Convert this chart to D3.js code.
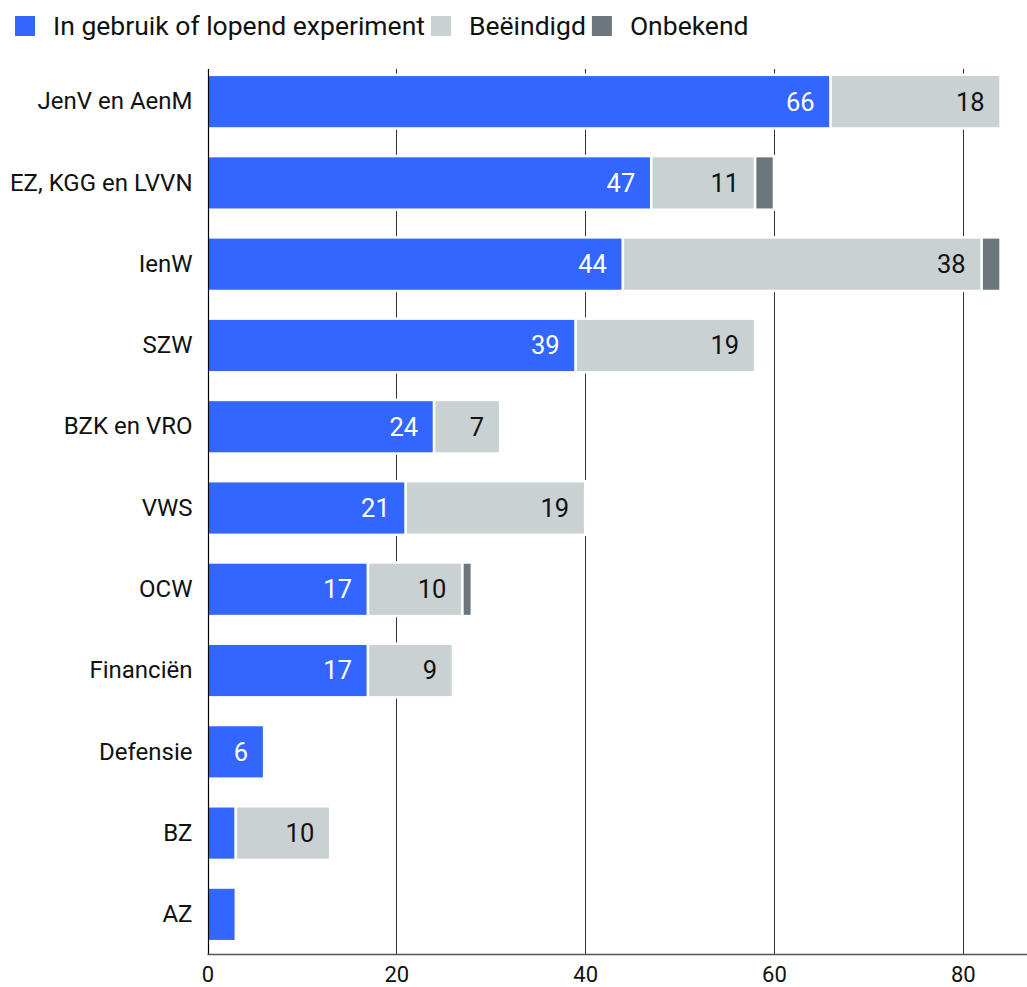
<!DOCTYPE html>
<html>
<head>
<meta charset="utf-8">
<script src="https://cdn.jsdelivr.net/npm/d3@7"></script>
<style>
  body { margin: 0; background: #fff; }
  svg { font-family: Roboto, "Noto Sans", sans-serif; }
</style>
</head>
<body>
<svg id="chart" width="1027" height="987"></svg>
<script>
// Data
const categories = [
  "JenV en AenM", "EZ, KGG en LVVN", "IenW", "SZW", "BZK en VRO",
  "VWS", "OCW", "Financiën", "Defensie", "BZ", "AZ"
];
const inGebruik = [66, 47, 44, 39, 24, 21, 17, 17, 6, 3, 3];
const beeindigd = [18, 11, 38, 19, 7, 19, 10, 9, 0, 10, 0];
const onbekend = [0, 2, 2, 0, 0, 0, 1, 0, 0, 0, 0];
const seriesNames = ["In gebruik of lopend experiment", "Beëindigd", "Onbekend"];
const seriesColors = ["#3366ff", "#c9d1d3", "#6b777d"];
const xTicks = [0, 20, 40, 60, 80];

const svg = d3.select("#chart");
const width = 1027;

// Scales
const x = d3.scaleLinear().domain([0, 86.8]).range([207.5, width]);
const y = d3.scaleBand()
  .domain(categories)
  .range([61, 955])
  .paddingInner(0.34)
  .paddingOuter(0.17);
const plotTop = 69;
const plotBottom = 954.5;

// Gridlines (behind bars)
svg.append("g")
  .selectAll("line")
  .data(xTicks.filter((d) => d > 0))
  .join("line")
  .attr("x1", (d) => Math.round(x(d)) + 0.5)
  .attr("x2", (d) => Math.round(x(d)) + 0.5)
  .attr("y1", plotTop)
  .attr("y2", plotBottom)
  .attr("stroke", "#333")
  .attr("stroke-width", 1);

// Stack
const rows = categories.map((c, i) => ({
  cat: c,
  s0: inGebruik[i],
  s1: beeindigd[i],
  s2: onbekend[i]
}));
const stacked = d3.stack().keys(["s0", "s1", "s2"])(rows);

const layers = svg.append("g")
  .selectAll("g")
  .data(stacked)
  .join("g")
  .attr("fill", (_, i) => seriesColors[i]);

layers.selectAll("rect")
  .data((d) => d.filter((v) => v[1] - v[0] > 0))
  .join("rect")
  .attr("x", (d) => x(d[0]))
  .attr("y", (d) => y(d.data.cat))
  .attr("width", (d) => x(d[1]) - x(d[0]))
  .attr("height", y.bandwidth())
  .attr("stroke", "#fff")
  .attr("stroke-width", 2.5);

// Value labels
const labelColors = ["#fff", "#111", "#fff"];
stacked.forEach((layer, li) => {
  if (li === 2) return;
  svg.append("g")
    .selectAll("text")
    .data(layer.filter((v) => v[1] - v[0] >= 5))
    .join("text")
    .attr("x", (d) => x(d[1]) - 16)
    .attr("y", (d) => y(d.data.cat) + y.bandwidth() / 2)
    .attr("dy", "0.35em")
    .attr("text-anchor", "end")
    .attr("fill", labelColors[li])
    .style("font-size", "25.5px")
    .text((d) => d[1] - d[0]);
});

// Y axis
const yAxis = d3.axisLeft(y).tickSize(0).tickPadding(15);
svg.append("g")
  .attr("transform", `translate(${x(0)},0)`)
  .call(yAxis)
  .call((g) => g.select(".domain").remove())
  .call((g) => g.selectAll(".tick text")
    .style("font-size", "24px")
    .style("font-family", "Roboto, sans-serif")
    .attr("fill", "#111"));

svg.append("line")
  .attr("x1", Math.round(x(0)) + 0.5)
  .attr("x2", Math.round(x(0)) + 0.5)
  .attr("y1", plotTop)
  .attr("y2", plotBottom)
  .attr("stroke", "#000")
  .attr("stroke-width", 1.2);

// X axis
const xAxis = d3.axisBottom(x).tickValues(xTicks).tickSize(0).tickPadding(12);
svg.append("g")
  .attr("transform", `translate(0,${plotBottom})`)
  .call(xAxis)
  .call((g) => g.select(".domain")
    .attr("d", `M${x(0)},0H${width}`)
    .attr("stroke", "#555")
    .attr("stroke-width", 1.5))
  .call((g) => g.selectAll(".tick text")
    .style("font-size", "22px")
    .style("font-family", "Roboto, sans-serif")
    .attr("fill", "#111"));

// Legend
const legend = svg.append("g").attr("transform", "translate(15,26)");
let lx = 0;
seriesNames.forEach((name, i) => {
  legend.append("rect")
    .attr("x", lx)
    .attr("y", -10)
    .attr("width", 20)
    .attr("height", 20)
    .attr("fill", seriesColors[i]);
  const t = legend.append("text")
    .attr("x", lx + 38)
    .attr("dy", "0.35em")
    .style("font-size", "26.5px")
    .attr("fill", "#111")
    .text(name);
  lx += 38 + t.node().getComputedTextLength() + 6;
});
</script>
</body>
</html>
